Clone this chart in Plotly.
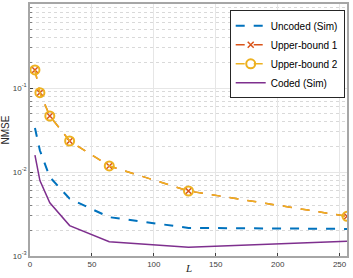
import plotly.graph_objects as go

L = [4, 8, 16, 32, 64, 128, 256]
uncoded = [0.0334, 0.0180, 0.0087, 0.0048, 0.0029, 0.00216, 0.0021]
upper1 = [0.164, 0.088, 0.0464, 0.0234, 0.0118, 0.00594, 0.00297]
upper2 = [0.164, 0.088, 0.0464, 0.0234, 0.0118, 0.00594, 0.00297]
coded = [0.0159, 0.0079, 0.0043, 0.0023, 0.00148, 0.00127, 0.0015]

yticks = [1e-3, 1e-2, 1e-1, 1]
yticktext = ["10<sup>-3</sup>", "10<sup>-2</sup>", "10<sup>-1</sup>", "10<sup>0</sup>"]
minor_vals = [m * 10 ** e for e in (-3, -2, -1) for m in range(2, 10)]

fig = go.Figure()
fig.add_trace(go.Scatter(x=L, y=uncoded, mode="lines", name="Uncoded (Sim)",
                         line=dict(color="#0072BD", width=2, dash="dash")))
fig.add_trace(go.Scatter(x=L, y=upper1, mode="lines+markers", name="Upper-bound 1",
                         line=dict(color="#D95319", width=1.5, dash="dash"),
                         marker=dict(symbol="x-thin", size=6, color="#D95319",
                                     line=dict(color="#D95319", width=1.5))))
fig.add_trace(go.Scatter(x=L, y=upper2, mode="lines+markers", name="Upper-bound 2",
                         line=dict(color="#EDB120", width=1.5, dash="dash"),
                         marker=dict(symbol="circle-open", size=9, color="#EDB120",
                                     line=dict(color="#EDB120", width=2))))
fig.add_trace(go.Scatter(x=L, y=coded, mode="lines", name="Coded (Sim)",
                         line=dict(color="#7E2F8E", width=1.5)))

fig.update_layout(
    width=353, height=278,
    margin=dict(l=30, r=6, t=4, b=22, autoexpand=False),
    paper_bgcolor="white", plot_bgcolor="white",
    font=dict(family="Liberation Sans, Arial", size=8, color="#262626"),
    showlegend=True,
    legend=dict(x=0.63, y=0.975, xanchor="left", yanchor="top",
                bgcolor="white", bordercolor="#262626", borderwidth=1,
                font=dict(size=10, color="#000000"),
                tracegroupgap=0, itemwidth=30),
    annotations=[dict(text="<i>L</i>", xref="paper", yref="paper", x=0.5, y=-0.048,
                      xanchor="center", yanchor="middle", showarrow=False,
                      font=dict(family="Liberation Serif, Times New Roman", size=11, color="#262626"))],
)
fig.update_xaxes(
    range=[0, 256], tickvals=[0, 50, 100, 150, 200, 250],
    showgrid=True, gridcolor="#e6e6e6", gridwidth=1,
    ticks="inside", ticklen=3, tickcolor="#404040",
    showline=True, linecolor="#a6a6a6", linewidth=1.5, mirror=True,
    tickfont=dict(size=8, color="#404040"), automargin=False,
    zeroline=False,
)
fig.update_yaxes(
    type="log", range=[-3, 0], tickvals=yticks, ticktext=yticktext,
    showgrid=True, gridcolor="#e6e6e6", gridwidth=1,
    ticks="inside", ticklen=3, tickcolor="#404040",
    minor=dict(tickvals=minor_vals, showgrid=True, gridcolor="#d9d9d9", griddash="dot",
               ticks="inside", ticklen=2, tickcolor="#808080"),
    showline=True, linecolor="#a6a6a6", linewidth=1.5, mirror=True,
    tickfont=dict(size=8, color="#404040"), automargin=False,
    title=dict(text="NMSE", font=dict(size=10, color="#262626"), standoff=4),
    zeroline=False,
)
fig.write_html(
    "out.html",
    config={"displayModeBar": False},
    post_script="document.body.style.margin='0';document.body.style.padding='0';document.body.style.overflow='hidden';",
)
